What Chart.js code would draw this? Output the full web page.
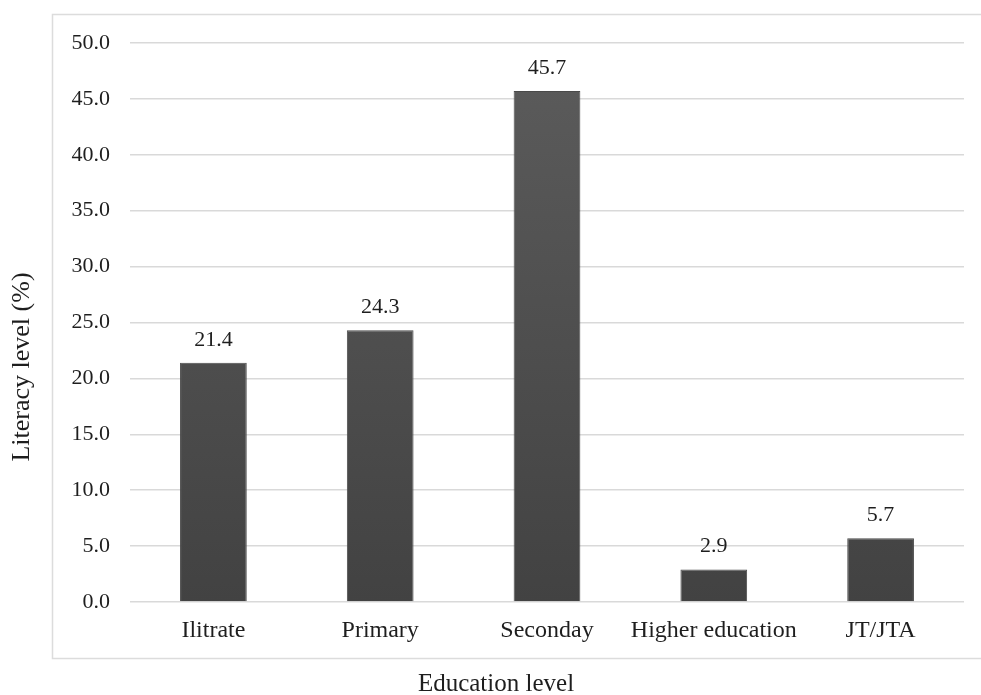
<!DOCTYPE html>
<html>
<head>
<meta charset="utf-8">
<script src="https://cdn.jsdelivr.net/npm/chart.js@4"></script>
<style>
  html, body { margin: 0; padding: 0; background: #ffffff; }
  #wrap { width: 981px; height: 695px; position: relative; }
</style>
</head>
<body>
<div id="wrap"><canvas id="chart" width="981" height="695"></canvas></div>
<script>
// Share of respondents by education level
const categories = ['Ilitrate', 'Primary', 'Seconday', 'Higher education', 'JT/JTA'];
const literacyValues = [21.4, 24.3, 45.7, 2.9, 5.7];
const xAxisTitle = 'Education level';
const yAxisTitle = 'Literacy level (%)';

const FONT = '"Liberation Serif", "Times New Roman", serif';
const TEXT = '#1e1e1e';

// Vertical shading of the bars, lighter at the top
function barFill(context) {
  const chart = context.chart;
  const area = chart.chartArea;
  if (!area) return '#4d4d4d';
  const g = chart.ctx.createLinearGradient(0, area.top, 0, area.bottom);
  g.addColorStop(0, '#5c5c5c');
  g.addColorStop(1, '#424242');
  return g;
}

// Light frame around the figure and the two axis titles
const framePlugin = {
  id: 'frame',
  beforeDraw(chart) {
    const ctx = chart.ctx;
    ctx.save();
    ctx.strokeStyle = '#dcdcdc';
    ctx.lineWidth = 1.5;
    ctx.strokeRect(52.5, 14.5, 940, 644);
    ctx.restore();
  },
  afterDraw(chart) {
    const ctx = chart.ctx;
    ctx.save();
    ctx.font = '25px ' + FONT;
    ctx.fillStyle = TEXT;
    ctx.textAlign = 'center';
    ctx.textBaseline = 'middle';
    ctx.fillText(xAxisTitle, 496, 684);
    ctx.translate(22, 367);
    ctx.rotate(-Math.PI / 2);
    ctx.font = '26px ' + FONT;
    ctx.fillText(yAxisTitle, 0, 0);
    ctx.restore();
  }
};

// Value labels above each bar
const valueLabels = {
  id: 'valueLabels',
  afterDatasetsDraw(chart) {
    const ctx = chart.ctx;
    const meta = chart.getDatasetMeta(0);
    ctx.save();
    ctx.font = '22px ' + FONT;
    ctx.fillStyle = TEXT;
    ctx.textAlign = 'center';
    ctx.textBaseline = 'bottom';
    meta.data.forEach((bar, i) => {
      ctx.fillText(literacyValues[i].toFixed(1), bar.x, bar.y - 12);
    });
    ctx.restore();
  }
};

new Chart(document.getElementById('chart'), {
  type: 'bar',
  data: {
    labels: categories,
    datasets: [{
      data: literacyValues,
      backgroundColor: barFill,
      borderColor: '#4a4a4a',
      borderWidth: 1,
      barPercentage: 0.4,
      categoryPercentage: 1.0
    }]
  },
  options: {
    responsive: false,
    animation: false,
    layout: { padding: { left: 0, right: 17, top: 43, bottom: 0 } },
    plugins: {
      legend: { display: false },
      tooltip: { enabled: false }
    },
    scales: {
      x: {
        grid: { display: false, drawTicks: false },
        border: { display: false },
        ticks: {
          color: TEXT, font: { family: FONT, size: 24 }, padding: 14,
          maxRotation: 0, minRotation: 0, autoSkip: false
        },
        afterFit(scale) { scale.height = 93; }
      },
      y: {
        min: 0, max: 50,
        grid: { color: '#d9d9d9', lineWidth: 1.5, drawTicks: false },
        border: { display: false },
        ticks: {
          stepSize: 5, color: TEXT, padding: 20,
          font: { family: FONT, size: 22 },
          callback: v => v.toFixed(1)
        },
        afterFit(scale) { scale.width = 130; }
      }
    }
  },
  plugins: [framePlugin, valueLabels]
});
</script>
</body>
</html>
